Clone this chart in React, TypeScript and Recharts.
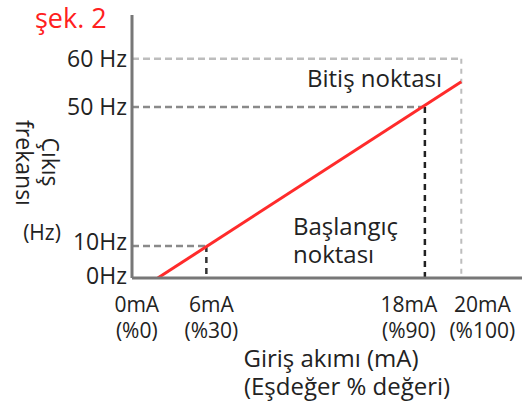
import React from 'react';
import { LineChart, Line, XAxis, YAxis, ReferenceLine } from 'recharts';

// ---- data (schematic diagram units: input axis 0..100 = 0mA..20mA position, output axis 0..100 = 0Hz..60Hz position)
const xTickLabels = ['0mA', '6mA', '18mA', '20mA'];
const xTickPercentLabels = ['(%0)', '(%30)', '(%90)', '(%100)'];
const xTickValues = [0, 16, 88, 100];
const yTickLabels = ['0Hz', '10Hz', '50 Hz', '60 Hz'];
const yTickValues = [0, 14.6, 78, 100];
const lineXs = [0, 100];
const lineYs = [0, 89.5];
const guideXs = [16, 88, 100];
const guideYs = [14.6, 78, 100];

// ---- layout / style (not data)
const X_DOMAIN: [number, number] = [-8.5, 120];
const Y_DOMAIN: [number, number] = [0, 120];
const xLabelDx = [-21, 5, -16, 21];
const yLabelBaseline = [6, 4, 8, 8];
const hGuideStyle = [
  { stroke: '#8a8a8a', dash: '7 4', w: 2.5 },
  { stroke: '#8a8a8a', dash: '7 4', w: 2.5 },
  { stroke: '#bdbdbd', dash: '7 4', w: 2.5 },
];
const vGuideStyle = [
  { stroke: '#333', dash: '6 5', w: 2.5 },
  { stroke: '#222', dash: '6 5', w: 2.5 },
  { stroke: '#bdbdbd', dash: '5 5', w: 2 },
];

const FONT = '"Open Sans", "Noto Sans", sans-serif';
const TEXT = '#222';

const chartData = lineXs.map((x, i) => ({ x, y: lineYs[i] }));

const XTick = (props: any) => {
  const { x, y, payload } = props;
  const i = xTickValues.indexOf(payload.value);
  if (i < 0) return null;
  const cx = x + xLabelDx[i];
  return (
    <g>
      <text x={cx} y={y + 34} textAnchor="middle" fontSize={21} fontFamily={FONT} fill={TEXT}>
        {xTickLabels[i]}
      </text>
      <text x={cx} y={y + 60} textAnchor="middle" fontSize={21} fontFamily={FONT} fill={TEXT}>
        {xTickPercentLabels[i]}
      </text>
    </g>
  );
};

const YTick = (props: any) => {
  const { y, payload } = props;
  const i = yTickValues.indexOf(payload.value);
  if (i < 0) return null;
  return (
    <text x={127} y={y + yLabelBaseline[i]} textAnchor="end" fontSize={23} fontFamily={FONT} fill={TEXT}>
      {yTickLabels[i]}
    </text>
  );
};

export default function App() {
  return (
    <div style={{ position: 'absolute', left: 0, top: 0, width: 522, height: 405, background: '#fff' }}>
      <LineChart
        width={522}
        height={405}
        data={chartData}
        margin={{ top: 15, right: 0, left: 72, bottom: 0 }}
      >
        <XAxis
          dataKey="x"
          type="number"
          domain={X_DOMAIN}
          allowDataOverflow
          ticks={xTickValues}
          interval={0}
          height={127}
          tickLine={false}
          tickSize={0}
          tickMargin={0}
          axisLine={{ stroke: '#777', strokeWidth: 3 }}
          tick={<XTick />}
        />
        <YAxis
          type="number"
          domain={Y_DOMAIN}
          allowDataOverflow
          ticks={yTickValues}
          interval={0}
          width={60}
          tickLine={false}
          tickSize={5}
          tickMargin={0}
          axisLine={{ stroke: '#777', strokeWidth: 3 }}
          tick={<YTick />}
        />
        {guideXs.map((gx, i) => (
          <ReferenceLine
            key={'h' + i}
            segment={[{ x: X_DOMAIN[0], y: guideYs[i] }, { x: gx, y: guideYs[i] }]}
            stroke={hGuideStyle[i].stroke}
            strokeDasharray={hGuideStyle[i].dash}
            strokeWidth={hGuideStyle[i].w}
          />
        ))}
        {guideXs.map((gx, i) => (
          <ReferenceLine
            key={'v' + i}
            segment={[{ x: gx, y: guideYs[i] }, { x: gx, y: 0 }]}
            stroke={vGuideStyle[i].stroke}
            strokeDasharray={vGuideStyle[i].dash}
            strokeWidth={vGuideStyle[i].w}
          />
        ))}
        <Line
          dataKey="y"
          stroke="#ff2b2b"
          strokeWidth={3}
          dot={false}
          isAnimationActive={false}
        />
      </LineChart>
      <svg
        width={522}
        height={405}
        style={{ position: 'absolute', left: 0, top: 0, pointerEvents: 'none' }}
      >
        <text x={35} y={28} fontSize={27} fontFamily={FONT} fill="#ff2020">şek. 2</text>
        <text
          transform="rotate(90, 51, 162)"
          x={51}
          y={162}
          textAnchor="middle"
          dominantBaseline="central"
          fontSize={23}
          fontFamily={FONT}
          fill={TEXT}
        >
          Çıkış
        </text>
        <text
          transform="rotate(90, 25, 163)"
          x={25}
          y={163}
          textAnchor="middle"
          dominantBaseline="central"
          fontSize={23}
          fontFamily={FONT}
          fill={TEXT}
        >
          frekansı
        </text>
        <text x={42} y={240} textAnchor="middle" fontSize={21} fontFamily={FONT} fill={TEXT}>(Hz)</text>
        <text x={307} y={87} fontSize={24} fontFamily={FONT} fill={TEXT}>Bitiş noktası</text>
        <text x={293} y={235} fontSize={24} fontFamily={FONT} fill={TEXT}>Başlangıç</text>
        <text x={293} y={263} fontSize={24} fontFamily={FONT} fill={TEXT}>noktası</text>
        <text x={331} y={367} textAnchor="middle" fontSize={24} fontFamily={FONT} fill={TEXT}>Giriş akımı (mA)</text>
        <text x={347} y={395} textAnchor="middle" fontSize={24} fontFamily={FONT} fill={TEXT}>(Eşdeğer % değeri)</text>
      </svg>
    </div>
  );
}
